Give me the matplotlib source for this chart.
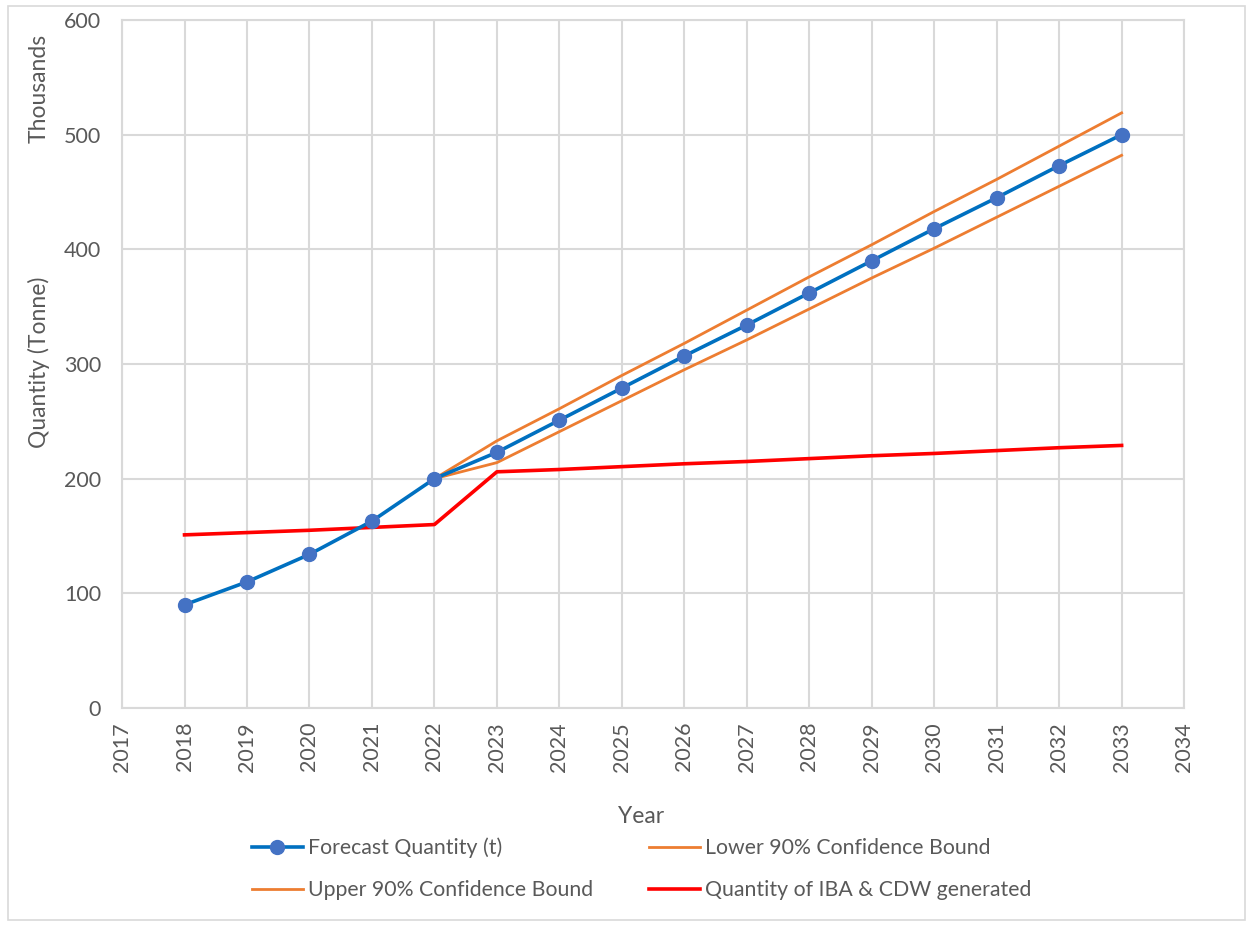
import matplotlib
matplotlib.use('Agg')
import matplotlib.pyplot as plt
from matplotlib.patches import Rectangle

# values in thousands of tonnes
years = list(range(2018, 2034))
forecast = [90, 110, 134, 163, 200, 223, 251, 279, 307, 334, 362, 390, 418, 445, 473, 500]
bound_years = list(range(2022, 2034))
lower = [200, 214, 241, 268, 295, 321, 348, 375, 401, 428, 455, 482]
upper = [200, 233, 261, 290, 318, 347, 376, 404, 433, 461, 490, 519]
generated = [151, 153, 155, 157.5, 160, 206, 208, 210.5, 213, 215, 217.5, 220, 222, 224.5, 227, 229]

grey = '#595959'
grid = '#d9d9d9'
plt.rcParams['font.family'] = ['Lato', 'DejaVu Sans']

fig = plt.figure(figsize=(12.53, 9.26), dpi=100)
ax = fig.add_axes([0.0974, 0.2354, 0.8476, 0.7430])

l1, = ax.plot(years, forecast, color='#0070C0', lw=2.6, marker='o', ms=10,
              mfc='#4472C4', mec='#4472C4', label='Forecast Quantity (t)', zorder=4)
l2, = ax.plot(bound_years, lower, color='#ED7D31', lw=2, label='Lower 90% Confidence Bound', zorder=3)
l3, = ax.plot(bound_years, upper, color='#ED7D31', lw=2, label='Upper 90% Confidence Bound', zorder=3)
l4, = ax.plot(years, generated, color='#FF0000', lw=2.6, label='Quantity of IBA & CDW generated', zorder=3)

ax.set_xlim(2017, 2034)
ax.set_ylim(0, 600)
ax.set_xticks(range(2017, 2035))
ax.set_yticks(range(0, 601, 100))
ax.tick_params(axis='x', rotation=90, pad=10)
ax.tick_params(axis='y', pad=15)
ax.tick_params(colors=grey, labelsize=15.5, length=0)
ax.grid(True, color=grid, lw=1.5)
ax.set_axisbelow(True)
for s in ax.spines.values():
    s.set_color(grid)
    s.set_linewidth(1.5)

fig.text(0.512, 0.118, 'Year', color=grey, fontsize=16.5, ha='center', va='center')
fig.text(0.031, 0.609, 'Quantity (Tonne)', rotation=90, color=grey, fontsize=16.5, ha='center', va='center')
fig.text(0.031, 0.905, 'Thousands', rotation=90, color=grey, fontsize=16.5, ha='center', va='center')

fig.legend([l1, l3, l2, l4], [l1.get_label(), l3.get_label(), l2.get_label(), l4.get_label()],
           ncol=2, loc='center', bbox_to_anchor=(0.512, 0.0616), frameon=False,
           fontsize=15.3, labelcolor=grey, handlelength=2.4, handletextpad=0.25,
           columnspacing=2.6, labelspacing=1.05)

fig.patches.append(Rectangle((0.006, 0.006), 0.988, 0.987, transform=fig.transFigure,
                             fill=False, ec=grid, lw=1.2))

plt.savefig('out.png', dpi=100)
